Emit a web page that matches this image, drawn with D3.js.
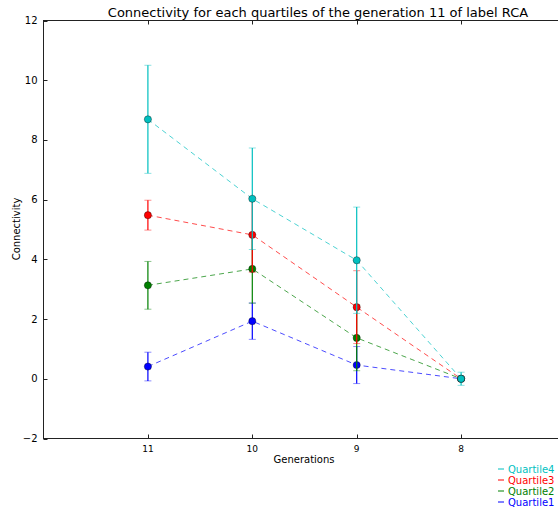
<!DOCTYPE html>
<html><head><meta charset="utf-8">
<script src="https://cdn.jsdelivr.net/npm/d3@7/dist/d3.min.js"></script>
<style>body{margin:0;background:#fff}svg{display:block;font-family:"DejaVu Sans",sans-serif}</style>
</head><body><svg id="c" width="558" height="510"></svg>
<script>
const generations = [11, 10, 9, 8];
const yTicks = [-2, 0, 2, 4, 6, 8, 10, 12];
const seriesNames = ["Quartile4", "Quartile3", "Quartile2", "Quartile1"];
const seriesColors = ["#00bfbf", "#ff0000", "#008000", "#0000ff"];
const q4 = [8.69, 6.03, 3.97, 0.0];
const q4err = [1.81, 1.7, 1.78, 0.22];
const q3 = [5.48, 4.82, 2.4, 0.0];
const q3err = [0.5, 1.25, 1.22, 0.0];
const q2 = [3.13, 3.68, 1.37, 0.0];
const q2err = [0.8, 1.15, 1.1, 0.0];
const q1 = [0.41, 1.93, 0.46, 0.0];
const q1err = [0.48, 0.61, 0.62, 0.0];

const series = [
  {name: seriesNames[0], color: seriesColors[0], v: q4, e: q4err},
  {name: seriesNames[1], color: seriesColors[1], v: q3, e: q3err},
  {name: seriesNames[2], color: seriesColors[2], v: q2, e: q2err},
  {name: seriesNames[3], color: seriesColors[3], v: q1, e: q1err}
];

const svg = d3.select("#c");
const L = 43.5, R = 565.5, T = 20.5, B = 438.5;
const x = d3.scaleLinear().domain([12, 7]).range([L, R]);
const y = d3.scaleLinear().domain([-2, 12]).range([B, T]);

// frame
svg.append("rect").attr("x", L).attr("y", T).attr("width", R - L).attr("height", B - T)
  .attr("fill", "none").attr("stroke", "#222").attr("stroke-width", 1);

// ticks (inward)
const tk = svg.append("g").attr("stroke", "#222").attr("stroke-width", 1);
generations.forEach(g => {
  const px = Math.round(x(g)) + 0.5;
  tk.append("line").attr("x1", px).attr("x2", px).attr("y1", B).attr("y2", B - 4);
  tk.append("line").attr("x1", px).attr("x2", px).attr("y1", T).attr("y2", T + 4);
});
yTicks.forEach(t => {
  const py = Math.round(y(t)) + 0.5;
  tk.append("line").attr("x1", L).attr("x2", L + 4).attr("y1", py).attr("y2", py);
  tk.append("line").attr("x1", R).attr("x2", R - 4).attr("y1", py).attr("y2", py);
});

// tick labels
svg.append("g").selectAll("text").data(yTicks).join("text")
  .attr("x", L - 6).attr("y", d => y(d) + 3.5).attr("text-anchor", "end")
  .attr("font-size", 10).attr("fill", "#000")
  .text(d => d < 0 ? "\u2212" + Math.abs(d) : d);
svg.append("g").selectAll("text").data(generations).join("text")
  .attr("x", d => x(d)).attr("y", B + 13).attr("text-anchor", "middle")
  .attr("font-size", 9).attr("fill", "#000").text(d => d);

// axis titles
svg.append("text").attr("x", 304).attr("y", 463).attr("text-anchor", "middle")
  .attr("font-size", 10).text("Generations");
svg.append("text").attr("transform", "translate(20,229) rotate(-90)").attr("text-anchor", "middle")
  .attr("font-size", 10).text("Connectivity");
svg.append("text").attr("x", 318).attr("y", 17).attr("text-anchor", "middle")
  .attr("font-size", 13).text("Connectivity for each quartiles of the generation 11 of label RCA");

// series (Quartile1 drawn first, Quartile4 on top)
const line = d3.line().x(d => x(d.g)).y(d => y(d.v));
series.slice().reverse().forEach(s => {
  const pts = generations.map((g, i) => ({g, v: s.v[i], e: s.e[i]}));
  const gr = svg.append("g");
  gr.append("path").attr("d", line(pts)).attr("fill", "none")
    .attr("stroke", s.color).attr("stroke-opacity", 0.7).attr("stroke-width", 1)
    .attr("stroke-dasharray", "5,4");
  pts.forEach(p => {
    if (p.e <= 0) return;
    const px = x(p.g);
    gr.append("line").attr("x1", px).attr("x2", px).attr("y1", y(p.v + p.e)).attr("y2", y(p.v - p.e))
      .attr("stroke", s.color).attr("stroke-width", 1.2);
    [p.v + p.e, p.v - p.e].forEach(c => {
      gr.append("line").attr("x1", px - 3.5).attr("x2", px + 3.5).attr("y1", y(c)).attr("y2", y(c))
        .attr("stroke", s.color).attr("stroke-opacity", 0.45).attr("stroke-width", 1);
    });
  });
  gr.selectAll("circle").data(pts).join("circle")
    .attr("cx", d => x(d.g)).attr("cy", d => y(d.v)).attr("r", 3.6)
    .attr("fill", s.color).attr("stroke", "#000").attr("stroke-opacity", 0.6).attr("stroke-width", 0.6);
});

// legend
const lg = svg.append("g");
series.forEach((s, i) => {
  const ly = 469 + i * 11;
  lg.append("line").attr("x1", 498).attr("x2", 504).attr("y1", ly).attr("y2", ly)
    .attr("stroke", s.color).attr("stroke-width", 1);
  lg.append("text").attr("x", 508).attr("y", ly + 3.5).attr("font-size", 10)
    .attr("fill", s.color).text(s.name);
});
</script></body></html>
